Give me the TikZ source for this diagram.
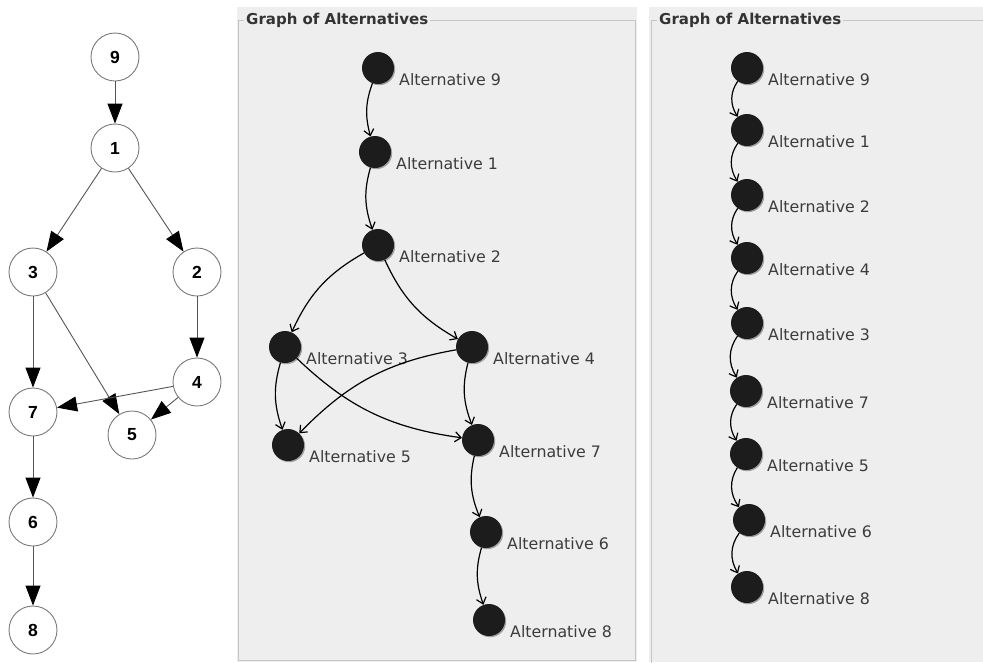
\documentclass[tikz,border=0pt]{standalone}
\usepackage{fontspec}
\usetikzlibrary{arrows.meta,bending,shadows}
\newfontfamily\altfont{DejaVu Sans}
\newfontfamily\numfont{Liberation Sans}
\definecolor{panelbg}{HTML}{EEEEEE}
\definecolor{panelline}{HTML}{C6C6C6}
\definecolor{txtgray}{HTML}{3C3C3C}
\definecolor{dotfill}{HTML}{1C1C1C}
\definecolor{ringline}{HTML}{7A7A7A}
\definecolor{edgegray}{HTML}{555555}

\tikzset{
  numnode/.style={circle, draw=ringline, fill=white, line width=0.9pt,
    minimum size=48pt, inner sep=0pt,
    font=\numfont\bfseries\fontsize{17.5}{17.5}\selectfont},
  numedge/.style={draw=edgegray, line width=0.9pt,
    -{Triangle[length=20pt,width=15pt,color=black]}},
  altdot/.style={circle, fill=dotfill, minimum size=32pt, inner sep=0pt,
    drop shadow={shadow xshift=1.2pt, shadow yshift=-1.2pt, fill=gray!75, opacity=1}},
  altlabel/.style={anchor=west, text=txtgray, inner sep=0pt,
    font=\altfont\fontsize{15.8}{16}\selectfont},
  altedge/.style={draw=black, line width=1.2pt,
    -{Straight Barb[length=6pt,width=10pt,bend]}, bend right=18},
  chainedge/.style={draw=black, line width=1.2pt,
    -{Straight Barb[length=6pt,width=10pt,bend]}, bend right=35},
  panelframe/.style={draw=panelline, line width=1pt},
  paneltitle/.style={anchor=west, fill=panelbg, inner sep=2pt, text=black!80,
    font=\altfont\bfseries\fontsize{15}{15}\selectfont},
}

% a filled alternative dot with its caption below right
\newcommand\altnd[4]{%
  \node[altdot] (#1) at (#2,#3) {};
  \node[altlabel, xshift=21pt, yshift=-12pt] (#1t) at (#1) {#4};}

\begin{document}
\begin{tikzpicture}[x=1pt,y=-1pt]
\useasboundingbox (0,0) rectangle (983,662);
\fill[white] (0,0) rectangle (983,662);

% ---------- plain numbered graph ----------
\node[numnode] (n9) at (115,57)  {9};
\node[numnode] (n1) at (115,148) {1};
\node[numnode] (n3) at (33,272)  {3};
\node[numnode] (n2) at (197,272) {2};
\node[numnode] (n4) at (197,382) {4};
\node[numnode] (n7) at (33,412)  {7};
\node[numnode] (n5) at (132,435) {5};
\node[numnode] (n6) at (33,522)  {6};
\node[numnode] (n8) at (33,630)  {8};

\draw[numedge] (n9) -- (n1);
\draw[numedge] (n1) -- (n3);
\draw[numedge] (n1) -- (n2);
\draw[numedge] (n3) -- (n7);
\draw[numedge] (n3) -- (n5);
\draw[numedge] (n2) -- (n4);
\draw[numedge] (n4) -- (n7);
\draw[numedge] (n4) -- (n5);
\draw[numedge] (n7) -- (n6);
\draw[numedge] (n6) -- (n8);

% ---------- first panel ----------
\fill[panelbg] (237,7) rectangle (637,662);
\draw[panelframe] (238,20) rectangle (635,660);
\node[paneltitle] (t1) at (244,20) {Graph of Alternatives};

\altnd{a9}{378}{68}{Alternative 9}
\altnd{a1}{375}{152}{Alternative 1}
\altnd{a2}{378}{245}{Alternative 2}
\altnd{a3}{285}{347}{Alternative 3}
\altnd{a4}{472}{347}{Alternative 4}
\altnd{a5}{288}{445}{Alternative 5}
\altnd{a7}{478}{440}{Alternative 7}
\altnd{a6}{486}{532}{Alternative 6}
\altnd{a8}{489}{620}{Alternative 8}

\draw[altedge] (a9) to (a1);
\draw[altedge] (a1) to (a2);
\draw[altedge] (a2) to (a3);
\draw[altedge] (a2) to (a4);
\draw[altedge] (a3) to (a5);
\draw[altedge] (a3) to (a7);
\draw[altedge] (a4) to (a5);
\draw[altedge] (a4) to (a7);
\draw[altedge] (a7) to (a6);
\draw[altedge] (a6) to (a8);

% ---------- second panel ----------
\fill[panelbg] (649,7) rectangle (983,662);
\draw[panelframe] (651,20) -- (990,20);
\draw[panelframe] (651,20) -- (651,670);
\node[paneltitle] (t2) at (657,20) {Graph of Alternatives};

\altnd{c9}{747}{68}{Alternative 9}
\altnd{c1}{747}{130}{Alternative 1}
\altnd{c2}{747}{195}{Alternative 2}
\altnd{c4}{747}{258}{Alternative 4}
\altnd{c3}{747}{323}{Alternative 3}
\altnd{c7}{746}{391}{Alternative 7}
\altnd{c5}{746}{454}{Alternative 5}
\altnd{c6}{749}{520}{Alternative 6}
\altnd{c8}{747}{587}{Alternative 8}

\draw[chainedge] (c9) to (c1);
\draw[chainedge] (c1) to (c2);
\draw[chainedge] (c2) to (c4);
\draw[chainedge] (c4) to (c3);
\draw[chainedge] (c3) to (c7);
\draw[chainedge] (c7) to (c5);
\draw[chainedge] (c5) to (c6);
\draw[chainedge] (c6) to (c8);
\end{tikzpicture}
\end{document}
